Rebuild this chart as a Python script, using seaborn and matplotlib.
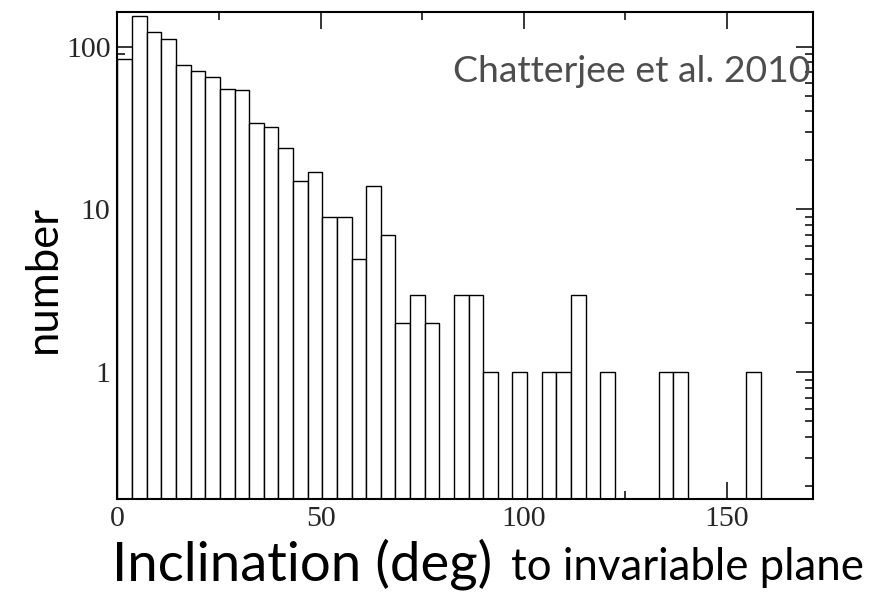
import numpy as np
import pandas as pd
import matplotlib
matplotlib.use("Agg")
import matplotlib.pyplot as plt
import seaborn as sns
from matplotlib.ticker import FixedLocator, LogLocator, NullFormatter

# ---- data ----
bin_width = 3.6
counts = [84, 154, 122, 111, 77, 71, 65, 55, 54, 34, 32, 24, 15, 17, 9, 9, 5, 14, 7,
          2, 3, 2, 0, 3, 3, 1, 0, 1, 0, 1, 1, 3, 0, 1, 0, 0, 0, 1, 1, 0, 0, 0, 0, 1]
x_major_ticks = [0, 50, 100, 150]
x_minor_ticks = [25, 75, 125]
y_major_ticks = [1, 10, 100]
annotation = "Chatterjee et al. 2010"
xlabel_main = "Inclination (deg)"
xlabel_tail = "to invariable plane"
ylabel = "number"

n_bins = len(counts)
centers = (np.arange(n_bins) + 0.5) * bin_width
df = pd.DataFrame({"inc": centers, "n": counts})
df = df[df["n"] > 0]

sns.set_style("ticks")
plt.rcParams["font.family"] = ["Liberation Serif"]

W, H = 869, 601
fig = plt.figure(figsize=(W / 100, H / 100), dpi=100)
ax = fig.add_axes([117.5 / W, 1 - 499 / H, (813 - 117.5) / W, (499 - 12) / H])

sns.histplot(data=df, x="inc", weights="n", binwidth=bin_width,
             binrange=(0, n_bins * bin_width), ax=ax,
             color="white", edgecolor="black", linewidth=1.0, alpha=1.0,
             fill=True, stat="count")
ax.set_yscale("log")
ax.set_xlim(0, 171.2)
ax.set_ylim(0.167, 163)

for s in ax.spines.values():
    s.set_linewidth(1.5)
    s.set_color("black")

ax.xaxis.set_major_locator(FixedLocator(x_major_ticks))
ax.xaxis.set_minor_locator(FixedLocator(x_minor_ticks))
ax.yaxis.set_major_locator(FixedLocator(y_major_ticks))
ax.yaxis.set_minor_locator(LogLocator(base=10, subs=np.arange(2, 10), numticks=20))
ax.yaxis.set_minor_formatter(NullFormatter())
ax.set_xticklabels([str(t) for t in x_major_ticks])
ax.set_yticklabels([str(t) for t in y_major_ticks])

ax.tick_params(which="both", direction="in", top=True, right=True, color="black",
               labelsize=21.5, pad=5, width=1.1)
ax.tick_params(which="major", length=12)
ax.tick_params(which="minor", length=6)

ax.set_xlabel("")
ax.set_ylabel("")

sans = ["Lato", "DejaVu Sans"]


def px(x, y):
    return x / W, 1 - y / H


def fit_width(t, target, use_height=False):
    for _ in range(3):
        fig.canvas.draw()
        bb = t.get_window_extent()
        cur = bb.height if use_height else bb.width
        t.set_fontsize(t.get_fontsize() * target / cur)


t_ann = fig.text(*px(810, 82), annotation, ha="right", va="baseline",
                 fontsize=29, color="#4d4d4d", family=sans)
fit_width(t_ann, 358)

t_y = fig.text(*px(56, 279), ylabel, rotation=90, rotation_mode="anchor",
               ha="center", va="baseline", fontsize=30, family=sans, color="black")
fit_width(t_y, 148, use_height=True)

t1 = fig.text(*px(112, 580), xlabel_main, ha="left", va="baseline",
              fontsize=38, family=sans, color="black")
fit_width(t1, 380)
t2 = fig.text(*px(511, 580), xlabel_tail, ha="left", va="baseline",
              fontsize=22, family=sans, color="black")
fit_width(t2, 352)

fig.savefig("out.png", dpi=100)
